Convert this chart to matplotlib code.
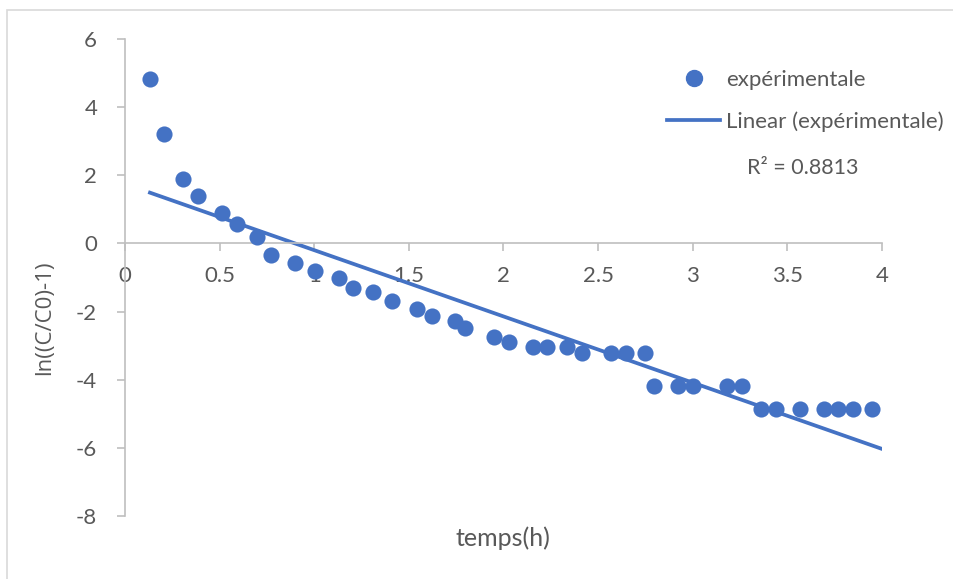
import numpy as np
import matplotlib
matplotlib.use("Agg")
import matplotlib.pyplot as plt
from matplotlib.lines import Line2D
from matplotlib.patches import Rectangle

# data
temps = [0.132, 0.206, 0.306, 0.386, 0.513, 0.592, 0.697, 0.771, 0.898, 1.004,
         1.130, 1.205, 1.310, 1.411, 1.543, 1.622, 1.744, 1.797, 1.950, 2.029,
         2.156, 2.230, 2.336, 2.415, 2.568, 2.647, 2.748, 2.795, 2.922, 3.001,
         3.181, 3.260, 3.361, 3.440, 3.567, 3.694, 3.768, 3.847, 3.947]
ln_c = [4.84, 3.20, 1.88, 1.38, 0.88, 0.56, 0.18, -0.35, -0.56, -0.82,
        -1.00, -1.32, -1.44, -1.70, -1.91, -2.14, -2.29, -2.49, -2.75, -2.88,
        -3.05, -3.05, -3.05, -3.23, -3.23, -3.23, -3.23, -4.17, -4.17, -4.17,
        -4.17, -4.17, -4.87, -4.87, -4.87, -4.87, -4.87, -4.87, -4.87]
x_ticks = [0, 0.5, 1, 1.5, 2, 2.5, 3, 3.5, 4]
x_tick_labels = ["0", "0.5", "1", "1.5", "2", "2.5", "3", "3.5", "4"]
y_ticks = [-8, -6, -4, -2, 0, 2, 4, 6]
r2_label = "R² = 0.8813"

blue = "#4472C4"
grey = "#595959"
axis_grey = "#BFBFBF"

plt.rcParams["axes.unicode_minus"] = False

t = np.array(temps)
y = np.array(ln_c)
slope, intercept = np.polyfit(t, y, 1)

fig = plt.figure(figsize=(9.54, 5.79), dpi=100)
# chart border like excel
fig.patches.append(Rectangle((7 / 954, -0.1), 1.2, 1 - 10 / 579 + 0.1,
                             transform=fig.transFigure, fill=False,
                             edgecolor="#D9D9D9", linewidth=1.2))

ax = fig.add_axes([125 / 954, 1 - 516 / 579, 757 / 954, 477 / 579])
ax.set_xlim(0, 4)
ax.set_ylim(-8, 6)

ax.scatter(t, y, s=135, color=blue, zorder=3, linewidths=0)
x_fit = np.array([t.min(), ax.get_xlim()[1]])
ax.plot(x_fit, slope * x_fit + intercept, color=blue, linewidth=2.7, zorder=2)

for side in ["top", "right"]:
    ax.spines[side].set_visible(False)
ax.spines["bottom"].set_position(("data", 0))
for side in ["left", "bottom"]:
    ax.spines[side].set_color(axis_grey)
    ax.spines[side].set_linewidth(1.2)

ax.set_xticks(x_ticks)
ax.set_xticklabels(x_tick_labels)
ax.set_yticks(y_ticks)
ax.tick_params(axis="x", direction="out", length=6, width=1.2, color=axis_grey,
               labelcolor=grey, labelsize=16, pad=10)
ax.tick_params(axis="y", direction="out", length=6, width=1.2, color=axis_grey,
               labelcolor=grey, labelsize=16, pad=14)
for lab in ax.get_xticklabels() + ax.get_yticklabels():
    lab.set_fontfamily("Lato")

fig.text(503 / 954, 1 - 538 / 579, "temps(h)", ha="center", va="center",
         fontsize=18, color=grey, family="Lato")
fig.text(45 / 954, 1 - 318 / 579, "ln((C/C0)-1)", ha="center", va="center",
         rotation=90, fontsize=16, color=grey, family="Open Sans")

handles = [Line2D([], [], marker="o", linestyle="none", markersize=11.5, color=blue),
           Line2D([], [], color=blue, linewidth=2.7)]
leg = ax.legend(handles, ["expérimentale", "Linear (expérimentale)"],
                loc="upper left", bbox_to_anchor=((647 - 125) / 757, 1 - (50 - 39) / 477),
                frameon=False, handlelength=2.4, handletextpad=0.27,
                labelspacing=0.95, prop={"family": "Lato", "size": 16})
for txt in leg.get_texts():
    txt.set_color(grey)

fig.text(747 / 954, 1 - 168 / 579, r2_label, ha="left", va="center",
         fontsize=15.5, color=grey, family="Lato")

fig.savefig("out.png", dpi=100)
